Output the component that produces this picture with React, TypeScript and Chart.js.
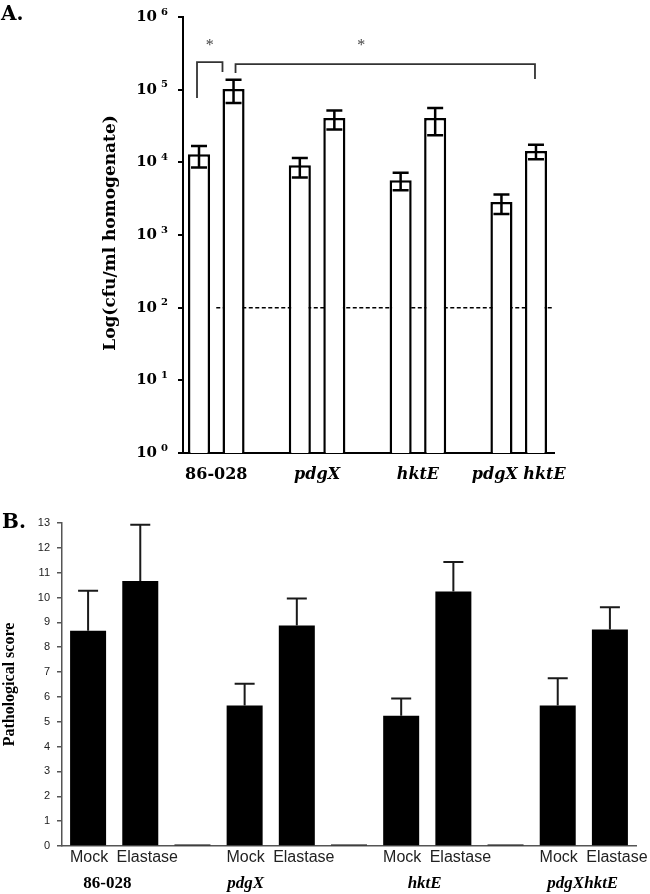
import React, { useEffect, useRef } from 'react';
import { Chart, registerables } from 'chart.js';

Chart.register(...registerables);

// ---------- Panel A data (cfu/ml homogenate, log scale) ----------
const groupsA = ['86-028', 'pdgX', 'hktE', 'pdgX hktE'];
const mockA = [12900, 9100, 5650, 2840];
const mockAHigh = [16800, 11500, 7200, 3600];
const mockALow = [8500, 6160, 4120, 1950];
const elastaseA = [102000, 40800, 40800, 14300];
const elastaseAHigh = [137000, 51500, 56000, 17500];
const elastaseALow = [65600, 28200, 23500, 11000];
const yTicksA = [1, 10, 100, 1000, 10000, 100000, 1000000];
const detectionLimitA = 100;
// significance brackets: heights in data units
const bracketTopsA = [240000, 225000];
const bracketLeftEndsA = [77000, 169000];
const bracketRightEndsA = [175000, 140000];
const starLevelA = 440000;

// ---------- Panel B data (pathological score) ----------
const labelsB = ['Mock', 'Elastase', '', 'Mock', 'Elastase', '', 'Mock', 'Elastase', '', 'Mock', 'Elastase'];
const valuesB = [8.66, 10.67, 0.06, 5.65, 8.87, 0.06, 5.24, 10.24, 0.06, 5.65, 8.71];
const errorsB = [1.61, 2.26, 0, 0.88, 1.09, 0, 0.7, 1.19, 0, 1.1, 0.9];
const groupsB = ['86-028', 'pdgX', 'hktE', 'pdgXhktE'];

const SERIF_A = '"DejaVu Serif"';
const SERIF_B = '"Liberation Serif"';
const SANS = '"Liberation Sans"';

function ChartA() {
  const ref = useRef<HTMLCanvasElement | null>(null);
  useEffect(() => {
    if (!ref.current) return;
    const highs = [mockAHigh, elastaseAHigh];
    const lows = [mockALow, elastaseALow];
    const plugin = {
      id: 'panelA',
      beforeDatasetsDraw(chart: any) {
        const { ctx, chartArea, scales } = chart;
        const y = scales.y.getPixelForValue(detectionLimitA);
        const x0 = scales.x.getPixelForValue(0);
        ctx.save();
        ctx.strokeStyle = '#000';
        ctx.lineWidth = 1.5;
        ctx.setLineDash([4, 2.5]);
        ctx.beginPath();
        ctx.moveTo(x0, y);
        ctx.lineTo(chartArea.right, y);
        ctx.stroke();
        ctx.restore();
      },
      afterDraw(chart: any) {
        const { ctx, chartArea, scales } = chart;
        const ys = scales.y;
        ctx.save();
        // error bars
        ctx.strokeStyle = '#000';
        ctx.lineWidth = 2.5;
        for (let d = 0; d < 2; d++) {
          const meta = chart.getDatasetMeta(d);
          meta.data.forEach((bar: any, i: number) => {
            const yh = ys.getPixelForValue(highs[d][i]);
            const yl = ys.getPixelForValue(lows[d][i]);
            const cw = 8;
            ctx.beginPath();
            ctx.moveTo(bar.x, yh);
            ctx.lineTo(bar.x, yl);
            ctx.moveTo(bar.x - cw, yh);
            ctx.lineTo(bar.x + cw, yh);
            ctx.moveTo(bar.x - cw, yl);
            ctx.lineTo(bar.x + cw, yl);
            ctx.stroke();
          });
        }
        // significance brackets
        const m0 = chart.getDatasetMeta(0).data;
        const m1 = chart.getDatasetMeta(1).data;
        const br = [
          { l: m0[0].x - 2, r: m1[0].x - m1[0].width / 2, star: 0.5 },
          { l: m1[0].x + 2, r: m1[3].x - 1, star: 0.42 },
        ];
        ctx.strokeStyle = '#333';
        ctx.lineWidth = 1.8;
        br.forEach((b, k) => {
          const yt = ys.getPixelForValue(bracketTopsA[k]);
          const yl = ys.getPixelForValue(bracketLeftEndsA[k]);
          const yr = ys.getPixelForValue(bracketRightEndsA[k]);
          ctx.beginPath();
          ctx.moveTo(b.l, yl);
          ctx.lineTo(b.l, yt);
          ctx.lineTo(b.r, yt);
          ctx.lineTo(b.r, yr);
          ctx.stroke();
          ctx.fillStyle = '#444';
          ctx.font = `16px ${SERIF_B}`;
          ctx.textAlign = 'center';
          ctx.textBaseline = 'middle';
          ctx.fillText('*', b.l + (b.r - b.l) * b.star, ys.getPixelForValue(starLevelA) + 3);
        });
        // y tick labels 10^n
        ctx.fillStyle = '#000';
        yTicksA.forEach((v) => {
          const y = ys.getPixelForValue(v);
          ctx.font = `bold 15px ${SERIF_A}`;
          ctx.textAlign = 'right';
          ctx.textBaseline = 'middle';
          ctx.fillText('10', chartArea.left - 26, y);
          ctx.font = `bold 10px ${SERIF_A}`;
          ctx.textAlign = 'left';
          ctx.fillText(String(Math.round(Math.log10(v))), chartArea.left - 22, y - 5);
        });
        // y title
        ctx.save();
        ctx.translate(111, 233);
        ctx.rotate(-Math.PI / 2);
        ctx.font = `bold 17px ${SERIF_A}`;
        ctx.textAlign = 'center';
        ctx.textBaseline = 'middle';
        ctx.fillText('Log(cfu/ml homogenate)', 0, 0);
        ctx.restore();
        // panel letter
        ctx.font = `bold 20px ${SERIF_A}`;
        ctx.textAlign = 'left';
        ctx.textBaseline = 'alphabetic';
        ctx.fillText('A.', 1, 20);
        ctx.restore();
      },
    };
    const chart = new Chart(ref.current, {
      type: 'bar',
      data: {
        datasets: [
          {
            label: 'Mock',
            data: mockA.map((v, i) => ({ x: i, y: v })),
            backgroundColor: '#fff',
            borderColor: '#000',
            borderWidth: 2.5,
            borderSkipped: 'start',
            categoryPercentage: 0.685,
            barPercentage: 0.64,
          },
          {
            label: 'Elastase',
            data: elastaseA.map((v, i) => ({ x: i, y: v })),
            backgroundColor: '#fff',
            borderColor: '#000',
            borderWidth: 2.5,
            borderSkipped: 'start',
            categoryPercentage: 0.685,
            barPercentage: 0.64,
          },
        ],
      } as any,
      options: {
        animation: false,
        responsive: false,
        maintainAspectRatio: false,
        layout: { padding: { top: 17, right: 96, left: 0, bottom: 0 } },
        plugins: { legend: { display: false }, tooltip: { enabled: false } },
        scales: {
          x: {
            type: 'linear',
            min: -0.33,
            max: 3.35,
            offset: false,
            grid: { display: false },
            border: { display: true, color: '#000', width: 2 },
            ticks: {
              stepSize: 1,
              includeBounds: false,
              autoSkip: false,
              maxRotation: 0,
              padding: 4,
              color: '#000',
              font: (c: any) => ({
                family: SERIF_A,
                size: 16,
                weight: 'bold',
                style: c.index === 0 ? 'normal' : 'italic',
              }),
              callback: (v: any) => groupsA[v] ?? '',
            },
            afterFit: (s: any) => {
              s.height = 47;
            },
          },
          y: {
            type: 'logarithmic',
            min: 1,
            max: 1000000,
            afterBuildTicks: (s: any) => {
              s.ticks = yTicksA.map((v) => ({ value: v }));
            },
            grid: { drawOnChartArea: false, drawTicks: true, tickLength: 5, color: '#000', lineWidth: 2 },
            border: { color: '#000', width: 2 },
            ticks: { color: 'rgba(0,0,0,0)', font: { size: 12 }, callback: () => '' },
            afterFit: (s: any) => {
              s.width = 183;
            },
          },
        },
      } as any,
      plugins: [plugin],
    });
    return () => chart.destroy();
  }, []);
  return <canvas ref={ref} width={650} height={500} style={{ display: 'block' }} />;
}

function ChartB() {
  const ref = useRef<HTMLCanvasElement | null>(null);
  useEffect(() => {
    if (!ref.current) return;
    const groupAnchors = [0.37, 3.02, 6.45, 9.48];
    const plugin = {
      id: 'panelB',
      afterDraw(chart: any) {
        const { ctx, chartArea, scales } = chart;
        const ys = scales.y;
        const xs = scales.x;
        ctx.save();
        // upward error bars
        ctx.strokeStyle = '#1a1a1a';
        ctx.lineWidth = 2;
        chart.getDatasetMeta(0).data.forEach((bar: any, i: number) => {
          if (!errorsB[i]) return;
          const yt = ys.getPixelForValue(valuesB[i] + errorsB[i]);
          ctx.beginPath();
          ctx.moveTo(bar.x, bar.y);
          ctx.lineTo(bar.x, yt);
          ctx.moveTo(bar.x - 10, yt);
          ctx.lineTo(bar.x + 10, yt);
          ctx.stroke();
        });
        // category labels (Mock / Elastase)
        ctx.fillStyle = '#222';
        ctx.textAlign = 'center';
        ctx.textBaseline = 'middle';
        ctx.font = `16px ${SANS}`;
        labelsB.forEach((lab, i) => {
          if (!lab) return;
          const shift = lab === 'Elastase' ? 7 : 1;
          ctx.fillText(lab, xs.getPixelForValue(i) + shift, chartArea.bottom + 12);
        });
        // group labels
        ctx.fillStyle = '#000';
        const step = xs.getPixelForValue(1) - xs.getPixelForValue(0);
        groupsB.forEach((g, k) => {
          ctx.font = `${k === 0 ? '' : 'italic '}bold 17px ${SERIF_B}`;
          ctx.fillText(g, xs.getPixelForValue(0) + groupAnchors[k] * step, chartArea.bottom + 38);
        });
        // y title
        ctx.save();
        ctx.translate(10, (chartArea.top + chartArea.bottom) / 2);
        ctx.rotate(-Math.PI / 2);
        ctx.font = `bold 16px ${SERIF_B}`;
        ctx.fillText('Pathological score', 0, 0);
        ctx.restore();
        // panel letter
        ctx.font = `bold 20px ${SERIF_A}`;
        ctx.textAlign = 'left';
        ctx.textBaseline = 'alphabetic';
        ctx.fillText('B.', 2, 28);
        ctx.restore();
      },
    };
    const chart = new Chart(ref.current, {
      type: 'bar',
      data: {
        labels: labelsB,
        datasets: [
          {
            label: 'Pathological score',
            data: valuesB,
            backgroundColor: '#000',
            borderWidth: 0,
            categoryPercentage: 1,
            barPercentage: 0.69,
          },
        ],
      },
      options: {
        animation: false,
        responsive: false,
        maintainAspectRatio: false,
        layout: { padding: { top: 23, right: 14, left: 0, bottom: 0 } },
        plugins: { legend: { display: false }, tooltip: { enabled: false } },
        scales: {
          x: {
            grid: { display: false },
            border: { color: '#555', width: 1.5 },
            ticks: { display: false },
            afterFit: (s: any) => {
              s.height = 48;
            },
          },
          y: {
            min: 0,
            max: 13,
            ticks: { stepSize: 1, color: '#222', font: { family: SANS, size: 11 }, padding: 7 },
            grid: { drawOnChartArea: false, tickLength: 5, color: '#555', lineWidth: 1.5 },
            border: { color: '#555', width: 1.5 },
            afterFit: (s: any) => {
              s.width = 62;
            },
          },
        },
      } as any,
      plugins: [plugin],
    });
    return () => chart.destroy();
  }, []);
  return <canvas ref={ref} width={650} height={394} style={{ display: 'block' }} />;
}

export default function App() {
  return (
    <div style={{ position: 'fixed', left: 0, top: 0, width: 650, height: 894, background: '#fff' }}>
      <div style={{ position: 'absolute', left: 0, top: 0 }}>
        <ChartA />
      </div>
      <div style={{ position: 'absolute', left: 0, top: 500 }}>
        <ChartB />
      </div>
    </div>
  );
}
